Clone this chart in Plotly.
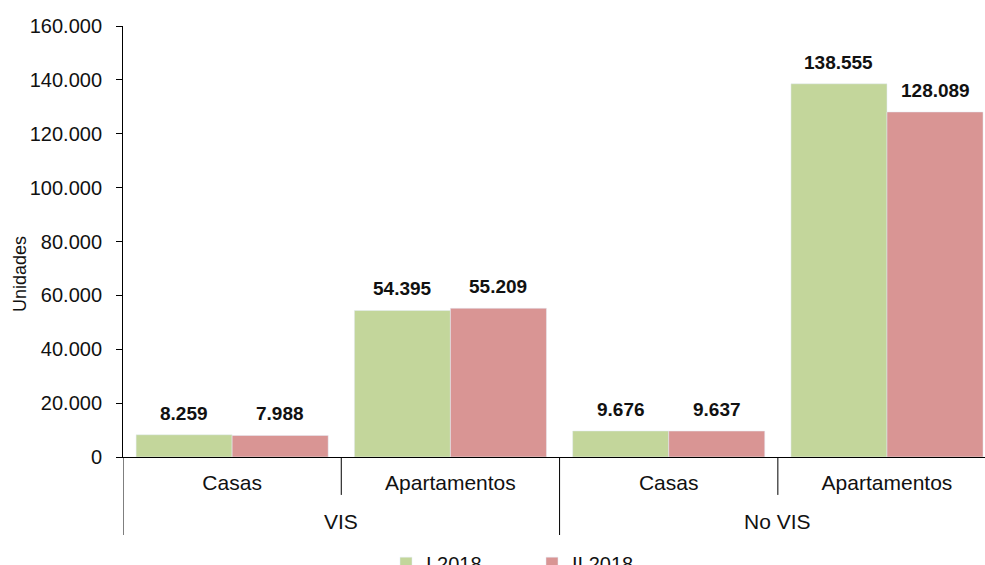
import plotly.graph_objects as go

grupos = ["VIS", "No VIS"]
tipos = ["Casas", "Apartamentos", "Casas", "Apartamentos"]
i_2018 = [8259, 54395, 9676, 138555]
ii_2018 = [7988, 55209, 9637, 128089]

FONT = "Liberation Sans, Arial, sans-serif"
BAR_W = 0.44

# posiciones de las categorías en el eje x (una por tipo)
pos = list(range(len(tipos)))

fig = go.Figure()

series = [("I 2018", i_2018, "#c3d69b", -BAR_W), ("II 2018", ii_2018, "#d99594", 0.0)]
for name, vals, color, off in series:
    fig.add_trace(go.Bar(
        x=pos,
        y=vals,
        name=name,
        marker_color=color,
        width=BAR_W,
        offset=off,
    ))
    # etiquetas de datos, un poco separadas de la barra
    for p, v in zip(pos, vals):
        fig.add_annotation(
            x=p + off + BAR_W / 2,
            y=v,
            xref="x",
            yref="y",
            yanchor="bottom",
            yshift=9,
            text=f"<b>{v:,}</b>".replace(",", "."),
            showarrow=False,
            font=dict(size=19, color="#111111"),
        )

# etiquetas del grupo exterior (VIS / No VIS)
n_in = len(tipos) // len(grupos)
for g, grupo in enumerate(grupos):
    fig.add_annotation(
        x=g * n_in + (n_in - 1) / 2,
        xref="x",
        y=-0.1485,
        yref="paper",
        yanchor="middle",
        text=grupo,
        showarrow=False,
        font=dict(size=21, color="#111111"),
    )

# divisores: cortos entre tipos, largos entre grupos
for k in range(len(tipos) + 1):
    largo = k % n_in == 0
    fig.add_shape(
        type="line",
        xref="x",
        yref="paper",
        x0=k - 0.5,
        x1=k - 0.5,
        y0=0,
        y1=-0.181 if largo else -0.088,
        line=dict(color="black", width=1),
    )

# título del eje y (algo por debajo del centro, como en el original)
fig.add_annotation(
    x=-0.1195,
    y=0.4246,
    xref="paper",
    yref="paper",
    xanchor="center",
    yanchor="middle",
    text="Unidades",
    textangle=-90,
    showarrow=False,
    font=dict(size=18, color="#111111"),
)

fig.update_layout(
    width=985,
    height=565,
    margin=dict(l=123, r=0, t=26, b=108, autoexpand=False),
    barmode="overlay",
    separators=",.",
    plot_bgcolor="white",
    paper_bgcolor="white",
    font=dict(family=FONT, size=20, color="#111111"),
    legend=dict(
        orientation="h",
        x=0.3051,
        xanchor="left",
        y=-0.201,
        yanchor="top",
        itemwidth=30,
        entrywidth=101,
        entrywidthmode="pixels",
        font=dict(size=20),
    ),
)

fig.update_yaxes(
    range=[0, 160000],
    dtick=20000,
    tickformat=",d",
    showgrid=False,
    zeroline=False,
    showline=True,
    linecolor="black",
    linewidth=1,
    ticks="outside",
    ticklen=6,
    tickcolor="black",
    ticklabelstandoff=10,
    tickfont=dict(size=20),
    automargin=False,
)

fig.update_xaxes(
    range=[-0.5, 3.449],
    tickvals=pos,
    ticktext=tipos,
    showline=True,
    linecolor="black",
    linewidth=1,
    showgrid=False,
    zeroline=False,
    ticks="",
    ticklabelstandoff=7,
    tickfont=dict(size=21),
    automargin=False,
)

fig.write_html(
    "out.html",
    config={"displayModeBar": False},
    post_script="document.body.style.margin='0';document.body.style.overflow='hidden';",
)
